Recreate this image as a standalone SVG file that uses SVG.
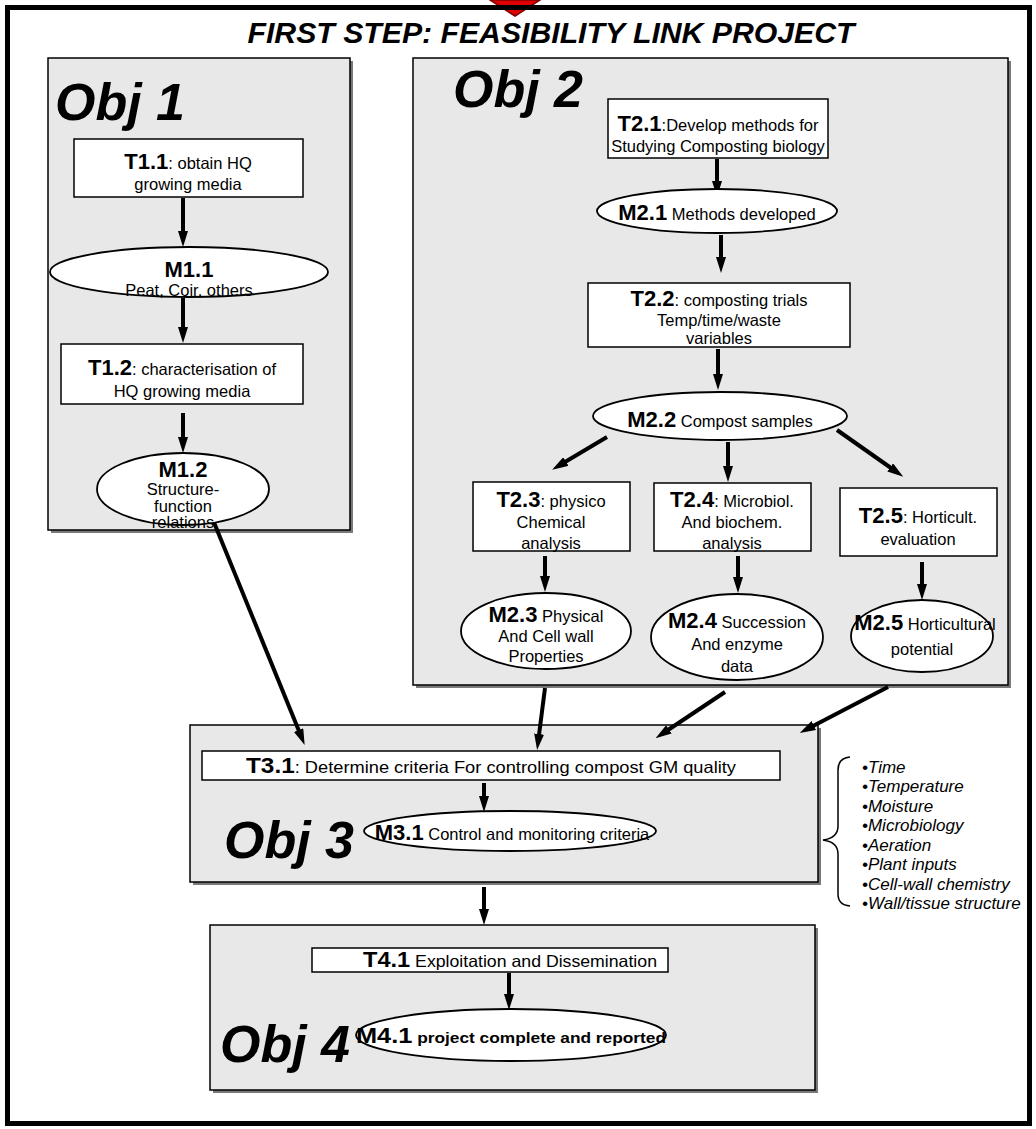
<svg xmlns="http://www.w3.org/2000/svg" width="1036" height="1129" viewBox="0 0 1036 1129">
<style>
text{font-family:"Liberation Sans",Arial,sans-serif;fill:#000}
.obj{fill:#e8e8e8;stroke:#000;stroke-width:1.5}
.sh{fill:#7a7a7a}
.box{fill:#fff;stroke:#000;stroke-width:1.5}
.ell{fill:#fff;stroke:#000;stroke-width:1.8}
.t{font-size:16.5px}
.b{font-weight:bold;font-size:22px}
.big{font-size:52px;font-weight:bold;font-style:italic}
.li{font-size:17px;font-style:italic}
.arr{stroke:#000;stroke-width:4;fill:none;marker-end:url(#ah)}
</style>
<defs>
<marker id="ah" viewBox="0 0 16 10" markerWidth="16" markerHeight="10" refX="1" refY="5" orient="auto" markerUnits="userSpaceOnUse">
<path d="M0,0 L16,5 L0,10 z" fill="#000"/>
</marker>
</defs>
<rect width="1036" height="1129" fill="#fff"/>
<polygon points="490,0 540,0 515,16" fill="#e00000" stroke="#800000" stroke-width="1.5"/>
<rect x="7.5" y="7.5" width="1022" height="1116" fill="none" stroke="#000" stroke-width="5"/>
<text x="551" y="43" text-anchor="middle" font-size="29" font-weight="bold" font-style="italic" textLength="607" lengthAdjust="spacingAndGlyphs">FIRST STEP:  FEASIBILITY LINK PROJECT</text>

<g id="obj1">
<rect class="sh" x="51" y="61" width="302" height="472"/>
<rect class="obj" x="48" y="58" width="302" height="472"/>
<text class="big" x="55" y="120">Obj 1</text>
</g>
<g id="obj2">
<rect class="sh" x="416" y="61" width="595" height="627"/>
<rect class="obj" x="413" y="58" width="595" height="627"/>
<text class="big" x="453" y="107">Obj 2</text>
</g>
<g id="obj3">
<rect class="sh" x="193" y="728" width="628" height="157"/>
<rect class="obj" x="190" y="725" width="628" height="157"/>
<text class="big" x="224" y="858">Obj 3</text>
</g>
<g id="obj4">
<rect class="sh" x="213" y="928" width="605" height="165"/>
<rect class="obj" x="210" y="925" width="605" height="165"/>
<text class="big" x="220" y="1062">Obj 4</text>
</g>

<g id="connectors">
<line class="arr" x1="183" y1="198" x2="183" y2="232"/>
<line class="arr" x1="183" y1="298" x2="183" y2="328"/>
<line class="arr" x1="183" y1="413" x2="183" y2="438"/>
<line class="arr" x1="717" y1="159" x2="717" y2="182"/>
<line class="arr" x1="721" y1="235" x2="721" y2="258"/>
<line class="arr" x1="718" y1="349" x2="718" y2="375"/>
<line class="arr" x1="607" y1="437" x2="565" y2="462"/>
<line class="arr" x1="728" y1="442" x2="728" y2="467"/>
<line class="arr" x1="837" y1="430" x2="891" y2="468"/>
<line class="arr" x1="545" y1="556" x2="545" y2="577"/>
<line class="arr" x1="738" y1="556" x2="738" y2="578"/>
<line class="arr" x1="922" y1="562" x2="922" y2="585"/>
<line class="arr" x1="213" y1="520" x2="299" y2="731"/>
<line class="arr" x1="545" y1="688" x2="539" y2="735"/>
<line class="arr" x1="725" y1="692" x2="668" y2="730"/>
<line class="arr" x1="888" y1="687" x2="813" y2="726"/>
<line class="arr" x1="484" y1="783" x2="484" y2="797"/>
<line class="arr" x1="484" y1="887" x2="484" y2="910"/>
<line class="arr" x1="509" y1="973" x2="509" y2="995"/>
</g>

<g id="T1.1">
<rect class="box" x="74" y="139" width="229" height="58"/>
<text class="t" x="188" y="169" text-anchor="middle"><tspan class="b">T1.1</tspan>: obtain HQ</text>
<text class="t" x="188" y="190" text-anchor="middle">growing media</text>
</g>
<g id="M1.1">
<ellipse class="ell" cx="189" cy="272" rx="139" ry="25"/>
<text class="b" x="189" y="277" text-anchor="middle">M1.1</text>
<text class="t" x="189" y="296" text-anchor="middle">Peat, Coir, others</text>
</g>
<g id="T1.2">
<rect class="box" x="61" y="344" width="242" height="60"/>
<text class="t" x="182" y="375" text-anchor="middle"><tspan class="b">T1.2</tspan>: characterisation of</text>
<text class="t" x="182" y="397" text-anchor="middle">HQ growing media</text>
</g>
<g id="M1.2">
<ellipse class="ell" cx="183" cy="489" rx="86" ry="36"/>
<text class="b" x="183" y="477" text-anchor="middle">M1.2</text>
<text class="t" x="183" y="495" text-anchor="middle">Structure-</text>
<text class="t" x="183" y="512" text-anchor="middle">function</text>
<text class="t" x="183" y="528" text-anchor="middle">relations</text>
</g>

<g id="T2.1">
<rect class="box" x="608" y="99" width="220" height="59"/>
<text class="t" x="718" y="131" text-anchor="middle"><tspan class="b">T2.1</tspan>:Develop methods for</text>
<text class="t" x="718" y="152" text-anchor="middle">Studying Composting biology</text>
</g>
<g id="M2.1">
<ellipse class="ell" cx="717" cy="211" rx="120" ry="22"/>
<text class="t" x="717" y="220" text-anchor="middle"><tspan class="b">M2.1</tspan> Methods developed</text>
</g>
<g id="T2.2">
<rect class="box" x="588" y="283" width="262" height="64"/>
<text class="t" x="719" y="306" text-anchor="middle"><tspan class="b">T2.2</tspan>: composting trials</text>
<text class="t" x="719" y="326" text-anchor="middle">Temp/time/waste</text>
<text class="t" x="719" y="344" text-anchor="middle">variables</text>
</g>
<g id="M2.2">
<ellipse class="ell" cx="720" cy="416" rx="127" ry="24"/>
<text class="t" x="720" y="427" text-anchor="middle"><tspan class="b">M2.2</tspan> Compost  samples</text>
</g>
<g id="T2.3">
<rect class="box" x="473" y="482" width="157" height="69"/>
<text class="t" x="551" y="507" text-anchor="middle"><tspan class="b">T2.3</tspan>: physico</text>
<text class="t" x="551" y="528" text-anchor="middle">Chemical</text>
<text class="t" x="551" y="549" text-anchor="middle">analysis</text>
</g>
<g id="T2.4">
<rect class="box" x="654" y="483" width="157" height="68"/>
<text class="t" x="732" y="507" text-anchor="middle"><tspan class="b">T2.4</tspan>: Microbiol.</text>
<text class="t" x="732" y="528" text-anchor="middle">And biochem.</text>
<text class="t" x="732" y="549" text-anchor="middle">analysis</text>
</g>
<g id="T2.5">
<rect class="box" x="840" y="488" width="157" height="68"/>
<text class="t" x="918" y="523" text-anchor="middle"><tspan class="b">T2.5</tspan>: Horticult.</text>
<text class="t" x="918" y="545" text-anchor="middle">evaluation</text>
</g>
<g id="M2.3">
<ellipse class="ell" cx="546" cy="631" rx="85" ry="38"/>
<text class="t" x="546" y="622" text-anchor="middle"><tspan class="b">M2.3</tspan> Physical</text>
<text class="t" x="546" y="642" text-anchor="middle">And Cell wall</text>
<text class="t" x="546" y="662" text-anchor="middle">Properties</text>
</g>
<g id="M2.4">
<ellipse class="ell" cx="737" cy="637" rx="86" ry="43"/>
<text class="t" x="737" y="628" text-anchor="middle"><tspan class="b">M2.4</tspan> Succession</text>
<text class="t" x="737" y="650" text-anchor="middle">And enzyme</text>
<text class="t" x="737" y="672" text-anchor="middle">data</text>
</g>
<g id="M2.5">
<ellipse class="ell" cx="922" cy="636" rx="71" ry="36"/>
<text class="t" x="925" y="630" text-anchor="middle"><tspan class="b">M2.5</tspan> Horticultural</text>
<text class="t" x="922" y="655" text-anchor="middle">potential</text>
</g>

<g id="T3.1">
<rect class="box" x="202" y="751" width="578" height="29"/>
<text class="t" x="491" y="773" text-anchor="middle" font-size="17" textLength="490" lengthAdjust="spacingAndGlyphs"><tspan class="b">T3.1</tspan>: Determine criteria For controlling compost GM quality</text>
</g>
<g id="M3.1">
<ellipse class="ell" cx="510" cy="831" rx="146" ry="20"/>
<text class="t" x="512" y="840" text-anchor="middle"><tspan class="b">M3.1</tspan> Control and monitoring criteria</text>
</g>
<g id="T4.1">
<rect class="box" x="312" y="948" width="356" height="24"/>
<text class="t" x="510" y="967" text-anchor="middle" textLength="294" lengthAdjust="spacingAndGlyphs"><tspan class="b">T4.1</tspan> Exploitation and Dissemination</text>
</g>
<g id="M4.1">
<ellipse class="ell" cx="511" cy="1035" rx="155" ry="26"/>
<text x="511" y="1043" text-anchor="middle" font-size="15" font-weight="bold" textLength="310" lengthAdjust="spacingAndGlyphs"><tspan class="b">M4.1</tspan> project complete and reported</text>
</g>

<g id="factors">
<path d="M850,757 Q838,758 838,770 L838,826 Q838,838 823,840 Q838,842 838,854 L838,894 Q838,905 850,906" fill="none" stroke="#000" stroke-width="1.5"/>
<text class="li" x="862" y="773">•Time</text>
<text class="li" x="862" y="792">•Temperature</text>
<text class="li" x="862" y="812">•Moisture</text>
<text class="li" x="862" y="831">•Microbiology</text>
<text class="li" x="862" y="851">•Aeration</text>
<text class="li" x="862" y="870">•Plant inputs</text>
<text class="li" x="862" y="890">•Cell-wall chemistry</text>
<text class="li" x="862" y="909">•Wall/tissue structure</text>
</g>
</svg>
